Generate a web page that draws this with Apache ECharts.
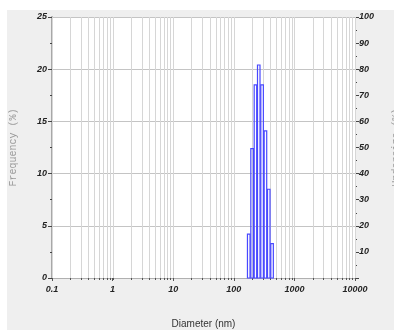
<!DOCTYPE html>
<html>
<head>
<meta charset="utf-8">
<script src="https://cdn.jsdelivr.net/npm/echarts@6/dist/echarts.min.js"></script>
<style>
  html, body { margin: 0; padding: 0; background: #ffffff; }
  #chart { width: 394px; height: 330px; }
</style>
</head>
<body>
<div id="chart"></div>
<script>
// Particle size distribution: frequency histogram on a log diameter scale
const binEdges = [168, 191, 217, 246, 279, 317, 360, 408, 463];   // nm
const frequency = [4.2, 12.4, 18.5, 20.4, 18.5, 14.1, 8.5, 3.3];  // %
const decadeTicks = [0.1, 1, 10, 100, 1000, 10000];
const minorLines = [];
for (let d = 0; d < decadeTicks.length - 1; d++) {
  for (let m = 1; m <= 9; m++) minorLines.push(decadeTicks[d] * m);
}
minorLines.push(10000);

const tickFont = {
  color: '#222222',
  fontFamily: 'Liberation Sans, Arial, sans-serif',
  fontSize: 9,
  fontWeight: 'bold',
  fontStyle: 'italic'
};

const chart = echarts.init(document.getElementById('chart'), null, { renderer: 'canvas' });

chart.setOption({
  animation: false,
  backgroundColor: '#ffffff',
  graphic: [{
    type: 'rect',
    z: -10,
    silent: true,
    shape: { x: 7, y: 10, width: 387, height: 320 },
    style: { fill: '#efefef' }
  }],
  grid: {
    left: 52, right: 39, top: 17, bottom: 52,
    outerBoundsMode: 'none',
    containLabel: false,
    show: true, backgroundColor: '#ffffff', borderWidth: 0
  },
  xAxis: {
    type: 'log',
    logBase: 10,
    min: 0.1,
    max: 10000,
    name: 'Diameter (nm)',
    nameLocation: 'middle',
    nameGap: 41,
    nameTextStyle: { color: '#333', fontFamily: 'Liberation Sans, Arial, sans-serif', fontSize: 10 },
    axisLine: { show: true, lineStyle: { color: '#b0b0b0', width: 1 } },
    axisTick: { show: true, length: 3, lineStyle: { color: '#555' } },
    axisLabel: Object.assign({ margin: 7, formatter: v => String(v) }, tickFont),
    splitLine: { show: false }
  },
  yAxis: [{
    type: 'value',
    min: 0, max: 25, interval: 5,
    name: 'Frequency (%)',
    nameLocation: 'middle',
    nameGap: 34,
    nameTextStyle: { color: '#9a9a9a', fontFamily: 'Liberation Mono, Courier New, monospace', fontSize: 10 },
    axisLine: { show: true, lineStyle: { color: '#a8a8a8', width: 2 } },
    axisTick: { show: true, length: 4, lineStyle: { color: '#444' } },
    minorTick: { show: true, splitNumber: 2, length: 2, lineStyle: { color: '#444' } },
    axisLabel: Object.assign({ margin: 5 }, tickFont),
    splitLine: { show: true, lineStyle: { color: '#c4c4c4', width: 1 } }
  }, {
    type: 'value',
    position: 'right',
    min: 0, max: 100, interval: 10,
    name: 'Undersize (%)',
    nameLocation: 'middle',
    nameRotate: 90,
    nameGap: 36,
    nameTextStyle: { color: '#9a9a9a', fontFamily: 'Liberation Mono, Courier New, monospace', fontSize: 10 },
    axisLine: { show: false },
    axisTick: { show: true, length: 4, lineStyle: { color: '#444' } },
    minorTick: { show: true, splitNumber: 2, length: 2, lineStyle: { color: '#444' } },
    axisLabel: Object.assign({ margin: 4, formatter: v => (v === 0 ? '' : String(v)) }, tickFont),
    splitLine: { show: false }
  }],
  series: [{
    // vertical log grid lines with their small ticks under the axis
    type: 'custom',
    xAxisIndex: 0,
    yAxisIndex: 0,
    silent: true,
    z: 1,
    data: minorLines.map(v => [v]),
    encode: { x: 0 },
    renderItem: function (params, api) {
      const top = api.coord([api.value(0), 25]);
      const bot = api.coord([api.value(0), 0]);
      const x = Math.round(top[0]) + 0.5;
      return {
        type: 'group',
        children: [{
          type: 'line',
          shape: { x1: x, y1: top[1], x2: x, y2: bot[1] },
          style: { stroke: '#d6d6d6', lineWidth: 1 }
        }, {
          type: 'line',
          shape: { x1: x, y1: bot[1], x2: x, y2: bot[1] + 2 },
          style: { stroke: '#555', lineWidth: 1 }
        }]
      };
    }
  }, {
    // frequency histogram bins
    type: 'custom',
    xAxisIndex: 0,
    yAxisIndex: 0,
    z: 5,
    data: frequency.map((f, i) => [binEdges[i], binEdges[i + 1], f]),
    encode: { x: [0, 1], y: 2 },
    renderItem: function (params, api) {
      const p0 = api.coord([api.value(0), api.value(2)]);
      const p1 = api.coord([api.value(1), 0]);
      return {
        type: 'rect',
        shape: { x: p0[0], y: p0[1], width: p1[0] - p0[0] - 0.8, height: p1[1] - p0[1] },
        style: { fill: 'none', stroke: '#4848ff', lineWidth: 1.2 }
      };
    }
  }]
});
</script>
</body>
</html>
